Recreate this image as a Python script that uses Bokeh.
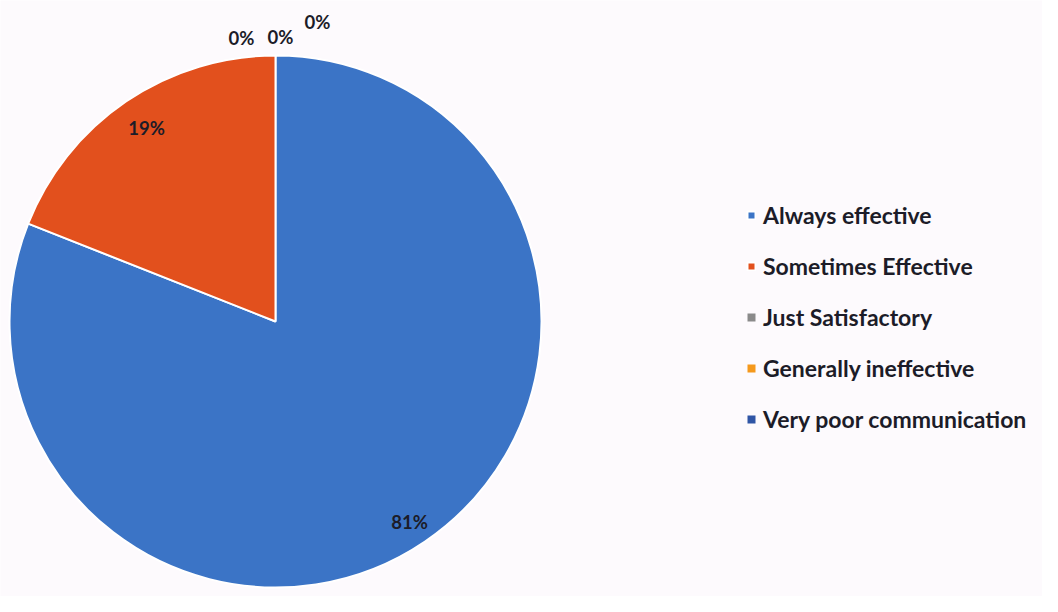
import math
from bokeh.plotting import figure
from bokeh.models import ColumnDataSource, Range1d, Legend, LegendItem
from bokeh.core.properties import value
from bokeh.embed import file_html
from bokeh.resources import INLINE

categories = ["Always effective", "Sometimes Effective", "Just Satisfactory",
              "Generally ineffective", "Very poor communication"]
percents = [81, 19, 0, 0, 0]
colors = ["#3b74c6", "#e2501d", "#8a8a8a", "#f5991c", "#2f55a5"]
pct_labels = ["81%", "19%", "0%", "0%", "0%"]

W, H = 1042, 596
p = figure(width=W, height=H, output_backend="svg", toolbar_location=None,
           x_range=Range1d(0, W), y_range=Range1d(0, H), min_border=0)
p.axis.visible = False
p.grid.visible = False
p.outline_line_color = None
p.background_fill_color = "#fdfafd"
p.border_fill_color = "#fdfafd"

cx, cy, r = 275, 275, 266
total = sum(percents)
acc = 0.0
renderers = []
for cat, v, col in zip(categories, percents, colors):
    a0 = math.pi / 2 - 2 * math.pi * acc / total
    acc += v
    a1 = math.pi / 2 - 2 * math.pi * acc / total
    if v > 0:
        data = dict(x=[cx], y=[cy], start=[a1], end=[a0], rad=[r])
        la = 1.0
    else:
        data = dict(x=[cx], y=[cy], start=[a1], end=[a0 + 1e-6], rad=[0])
        la = 0.0
    rr = p.wedge(x="x", y="y", radius="rad", start_angle="start", end_angle="end",
                 fill_color=col, line_color="white", line_width=2, line_alpha=la,
                 source=ColumnDataSource(data))
    renderers.append(rr)

# percentage labels
lx = [409, 146, 241, 280, 317]
ly = [75, 469, 559, 560, 575]
p.text(x=lx, y=ly, text=pct_labels, text_align="center", text_baseline="middle",
       text_font=value("Lato"), text_font_style="bold", text_font_size="18.5px",
       text_color="#1c1c28")

items = [LegendItem(label=c, renderers=[rr]) for c, rr in zip(categories, renderers)]
legend = Legend(items=items, location=(746, 163), orientation="vertical",
                glyph_width=10, glyph_height=10, label_height=23, spacing=23,
                label_standoff=7, padding=0, margin=0,
                label_text_font="Lato", label_text_font_style="bold",
                label_text_font_size="23px", label_text_color="#1c1c28",
                border_line_alpha=0, background_fill_alpha=0)
p.add_layout(legend, "center")

open("out.html", "w").write(file_html(p, INLINE))
